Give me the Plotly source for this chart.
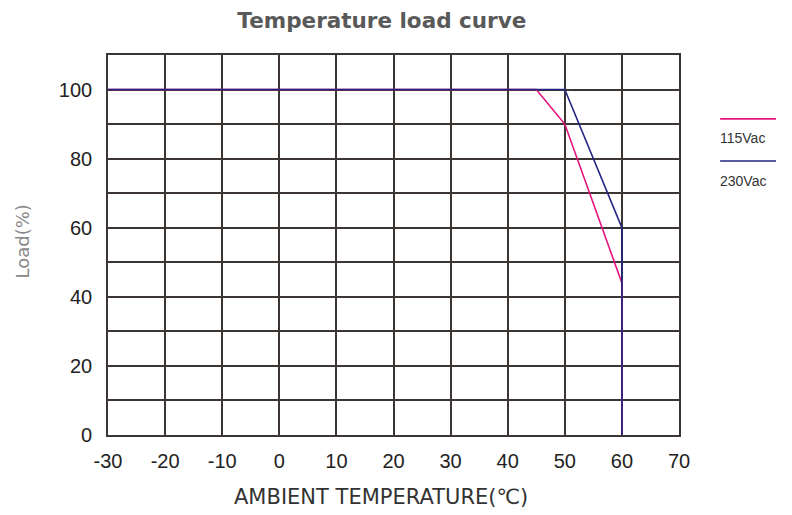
import plotly.graph_objects as go

temp_115 = [-30, 45, 50, 60, 60]
load_115 = [100, 100, 90, 44, 0]
temp_230 = [-30, 50, 60, 60]
load_230 = [100, 100, 60, 0]
x_ticks = [-30, -20, -10, 0, 10, 20, 30, 40, 50, 60, 70]
y_ticks = [0, 20, 40, 60, 80, 100]
series_names = ["115Vac", "230Vac"]
series_colors = ["#e5147d", "#232585"]

fig = go.Figure()
fig.add_trace(go.Scatter(x=temp_115, y=load_115, mode="lines", name=series_names[0],
                         line=dict(color=series_colors[0], width=1.6), showlegend=False))
fig.add_trace(go.Scatter(x=temp_230, y=load_230, mode="lines", name=series_names[1],
                         line=dict(color=series_colors[1], width=1.6), showlegend=False))

grid_col = "#3b3633"
tick_font = dict(family="Liberation Sans, Arial", size=20, color="#222")
fig.update_xaxes(range=[-30, 70], tickvals=x_ticks, ticktext=[str(v) for v in x_ticks],
                 showgrid=True, gridcolor=grid_col, gridwidth=1.6,
                 showline=True, linecolor=grid_col, linewidth=1.6, mirror=True,
                 zeroline=False, ticks="", ticklen=0, ticklabelstandoff=7,
                 automargin=False, tickfont=tick_font)
fig.update_yaxes(range=[0, 110], tickvals=y_ticks, ticktext=[str(v) for v in y_ticks],
                 showgrid=True, gridcolor=grid_col, gridwidth=1.6,
                 minor=dict(dtick=10, tick0=0, showgrid=True, gridcolor=grid_col, gridwidth=1.6),
                 showline=True, linecolor=grid_col, linewidth=1.6, mirror=True,
                 zeroline=False, ticks="", ticklen=0, ticklabelstandoff=10,
                 automargin=False, tickfont=tick_font)

# axis titles
fig.add_annotation(xref="paper", yref="paper", x=-0.15, y=0.51, text="Load(%)", textangle=-90,
                   showarrow=False, xanchor="center", yanchor="middle",
                   font=dict(family="DejaVu Sans", size=18, color="#888"))
fig.add_annotation(xref="paper", yref="paper", x=0.478, y=-0.163, text="AMBIENT TEMPERATURE(℃)",
                   showarrow=False, xanchor="center", yanchor="middle",
                   font=dict(family="DejaVu Sans", size=21, color="#333"))

# manual legend (line swatch above label)
legend_y = [0.832, 0.721]
for i, (name, col) in enumerate(zip(series_names, series_colors)):
    fig.add_shape(type="line", xref="paper", yref="paper",
                  x0=1.072, x1=1.170, y0=legend_y[i], y1=legend_y[i],
                  line=dict(color=col, width=1.6))
    fig.add_annotation(xref="paper", yref="paper", x=1.068, y=legend_y[i] - 0.025,
                       text=name, showarrow=False, xanchor="left", yanchor="top",
                       font=dict(family="Liberation Sans, Arial", size=14, color="#333"))

# page body has an 8px margin; shift margins so the plot area lands at the reference position
fig.update_layout(
    width=792, height=515,
    margin=dict(l=100, r=121, t=47, b=88),
    paper_bgcolor="white", plot_bgcolor="white",
    title=dict(text="Temperature load curve", x=0.472, xanchor="center", y=0.976, yanchor="middle",
               font=dict(family="DejaVu Sans", size=21.5, color="#595959", weight="bold")),
    showlegend=False,
)

fig.write_html("out.html")
